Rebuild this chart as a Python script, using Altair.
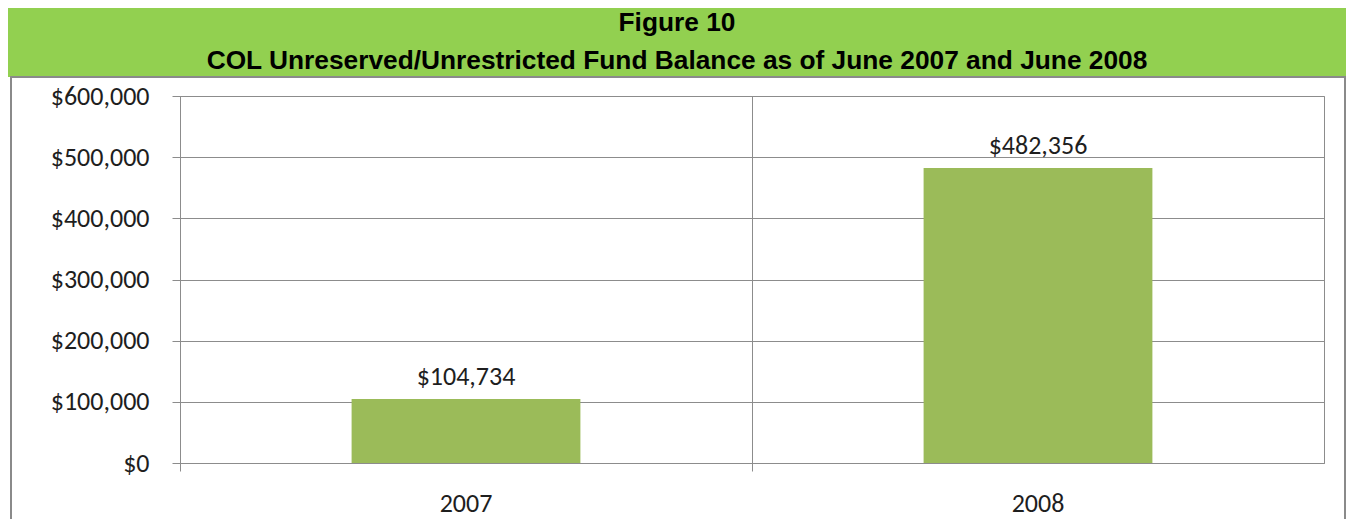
import altair as alt
import pandas as pd

years = ["2007", "2008"]
balances = [104734, 482356]
title_lines = ["Figure 10", "COL Unreserved/Unrestricted Fund Balance as of June 2007 and June 2008"]
y_ticks = [0, 100000, 200000, 300000, 400000, 500000, 600000]

df = pd.DataFrame({"year": years, "balance": balances})
one = pd.DataFrame({"k": [0]})

W, H = 1144, 367
GRAY = "#8c8c8c"
TEXT = "#1e1e1e"
LABEL_FONT = "Carlito, Lato, Open Sans"
TITLE_FONT = "Liberation Sans Narrow, Arial Narrow, Liberation Sans"
FS = 26

x_enc = alt.X("year:N", sort=years, title=None,
              scale=alt.Scale(paddingInner=0, paddingOuter=0),
              axis=alt.Axis(bandPosition=0, grid=True, gridColor=GRAY, domainColor=GRAY,
                            tickColor=GRAY, tickSize=8, labelAngle=0, labelFontSize=FS,
                            labelFont=LABEL_FONT, labelColor=TEXT, labelPadding=40,
                            labelBaseline="alphabetic", labelBound=False))
y_enc = alt.Y("balance:Q", title=None,
              scale=alt.Scale(domain=[0, 600000], nice=False),
              axis=alt.Axis(values=y_ticks, format="$,.0f", grid=True, gridColor=GRAY,
                            domainColor=GRAY, tickColor=GRAY, tickSize=8, labelFontSize=FS,
                            labelFont=LABEL_FONT, labelColor=TEXT, labelPadding=23))

bars = alt.Chart(df).mark_bar(color="#9BBB59", width=alt.RelativeBandSize(0.4)).encode(
    x=x_enc, y=y_enc)
bar_labels = alt.Chart(df).mark_text(baseline="alphabetic", dy=-14, fontSize=FS,
                                     font=LABEL_FONT, color=TEXT).encode(
    x=alt.X("year:N", sort=years), y="balance:Q",
    text=alt.Text("balance:Q", format="$,.0f"))

band = alt.Chart(one).mark_rect(color="#92D050", clip=False).encode(
    x=alt.value(-176), x2=alt.value(1180), y=alt.value(-93), y2=alt.value(-19))
frame = alt.Chart(one).mark_rect(fill=None, stroke="#8a8a8a", strokeWidth=2, clip=False).encode(
    x=alt.value(-169), x2=alt.value(1165), y=alt.value(-19), y2=alt.value(460))
t1 = alt.Chart(one).mark_text(text=title_lines[0], font=TITLE_FONT, fontSize=26.3,
                               fontWeight="bold", color="#000", baseline="alphabetic",
                               clip=False).encode(x=alt.value(497), y=alt.value(-65))
t2 = alt.Chart(one).mark_text(text=title_lines[1], font=TITLE_FONT, fontSize=26.3,
                               fontWeight="bold", color="#000", baseline="alphabetic",
                               clip=False).encode(x=alt.value(497), y=alt.value(-27))

chart = alt.layer(band, frame, t1, t2, bars, bar_labels).properties(
    width=W, height=H,
    autosize=alt.AutoSizeParams(type="none"),
    padding={"left": 172, "top": 88, "right": 22, "bottom": 56},
).configure_view(stroke=GRAY)

chart.save("out.html", embed_options={"renderer": "svg", "actions": False})
